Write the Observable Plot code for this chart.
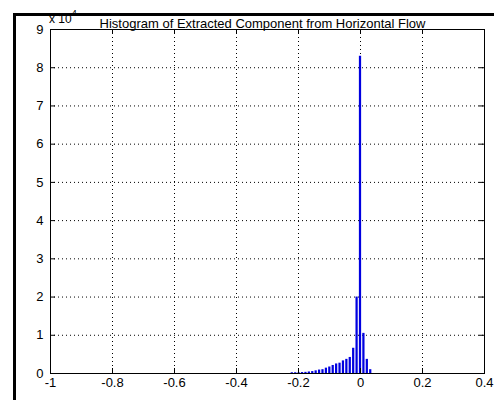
<!DOCTYPE html>
<html>
<head>
<meta charset="utf-8">
<script src="https://cdn.jsdelivr.net/npm/d3@7"></script>
<script src="https://cdn.jsdelivr.net/npm/@observablehq/plot@0.6"></script>
<style>
  html, body { margin: 0; padding: 0; background: #fff; }
  #wrap { position: relative; width: 494px; height: 400px; overflow: hidden; }
  .bt { position: absolute; left: 13px; top: 13px; width: 481px; height: 3px; background: #000; }
  .bl { position: absolute; left: 13px; top: 13px; width: 3px; height: 387px; background: #000; }
  #wrap svg g[aria-label$="tick label"] text { font-size: 13px; }
</style>
</head>
<body>
<div id="wrap"><div class="bt"></div><div class="bl"></div></div>
<script>
// Histogram bins (centers) and counts
const binCenters = [-0.22, -0.209, -0.198, -0.187, -0.176, -0.165, -0.154, -0.143, -0.132, -0.121,
                    -0.110, -0.099, -0.088, -0.077, -0.066, -0.055, -0.044, -0.033, -0.022, -0.011,
                     0.000,  0.011,  0.022,  0.033];
const counts = [200, 200, 200, 250, 300, 400, 500, 700, 900, 1000,
                1400, 1700, 2100, 2500, 2700, 3300, 3700, 4200, 6600, 20000,
                83000, 10500, 3700, 1000];
const xTicks = [-1, -0.8, -0.6, -0.4, -0.2, 0, 0.2, 0.4];
const yTicks = [0, 10000, 20000, 30000, 40000, 50000, 60000, 70000, 80000, 90000];
const titleText = "Histogram of Extracted Component from Horizontal Flow";
const halfBar = 0.0036;

const bins = binCenters.map((c, i) => ({x1: c - halfBar, x2: c + halfBar, y: counts[i]}));
const font = "'Liberation Sans', Arial, Helvetica, sans-serif";
const W = 494, H = 400, mL = 50, mR = 10, mT = 29, mB = 27;
const innerW = W - mL - mR, innerH = H - mT - mB, tk = 5;

const chart = Plot.plot({
  width: W, height: H,
  marginLeft: mL, marginRight: mR, marginTop: mT, marginBottom: mB,
  style: {fontFamily: font, fontSize: "13px", background: "transparent", color: "#000"},
  x: {domain: [-1, 0.4], ticks: xTicks, label: null},
  y: {domain: [0, 90000], ticks: yTicks, label: null},
  marks: [
    Plot.gridX(xTicks.slice(1, -1), {stroke: "#000", strokeOpacity: 1, strokeDasharray: "1,3"}),
    Plot.gridY(yTicks.slice(1, -1), {stroke: "#000", strokeOpacity: 1, strokeDasharray: "1,3"}),
    Plot.rectY(bins, {x1: "x1", x2: "x2", y: "y", fill: "#0000e0"}),
    Plot.tickX(xTicks, {x: d => d, stroke: "#000", insetTop: innerH - tk}),
    Plot.tickX(xTicks, {x: d => d, stroke: "#000", insetBottom: innerH - tk}),
    Plot.tickY(yTicks, {y: d => d, stroke: "#000", insetRight: innerW - tk}),
    Plot.tickY(yTicks, {y: d => d, stroke: "#000", insetLeft: innerW - tk}),
    Plot.frame({stroke: "#000"}),
    Plot.axisX(xTicks, {tickSize: 0, tickPadding: 4, tickFormat: d => String(d), fontSize: 13}),
    Plot.axisY(yTicks, {tickSize: 0, tickPadding: 7, tickFormat: d => String(d / 10000), fontSize: 13}),
    Plot.text([titleText], {frameAnchor: "top", text: d => d, dy: -11, dx: -5, fontSize: 13})
  ]
});

// exponent label "x 10^4"
const svg = d3.select(chart);
const ex = svg.append("text")
  .attr("x", 49).attr("y", 23)
  .attr("text-anchor", "start")
  .attr("fill", "#000")
  .style("font-family", font).style("font-size", "12px");
ex.append("tspan").text("x 10");
ex.append("tspan").attr("dy", -7).style("font-size", "9px").text("4");

chart.style.position = "absolute";
chart.style.left = "0px";
chart.style.top = "0px";
document.getElementById("wrap").prepend(chart);
</script>
</body>
</html>
